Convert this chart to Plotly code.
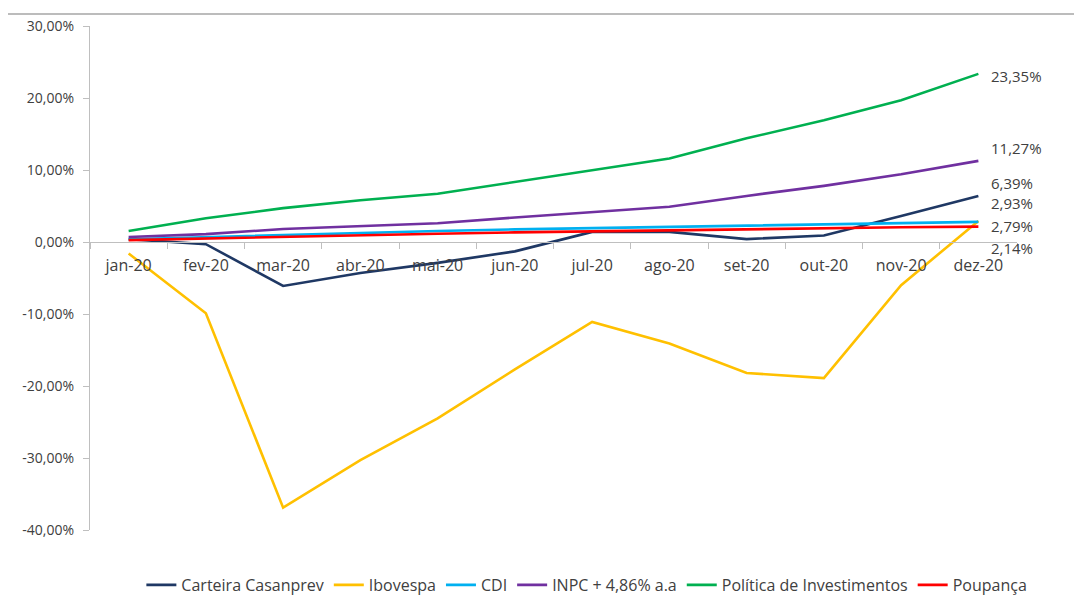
import plotly.graph_objects as go

months = ["jan-20", "fev-20", "mar-20", "abr-20", "mai-20", "jun-20",
          "jul-20", "ago-20", "set-20", "out-20", "nov-20", "dez-20"]

carteira = [0.40, -0.30, -6.10, -4.30, -2.90, -1.30, 1.40, 1.40, 0.40, 0.90, 3.60, 6.39]
ibovespa = [-1.60, -9.90, -36.90, -30.30, -24.50, -17.70, -11.10, -14.10, -18.20, -18.90, -6.00, 2.93]
cdi = [0.38, 0.67, 1.00, 1.28, 1.53, 1.75, 1.94, 2.11, 2.27, 2.44, 2.60, 2.79]
inpc = [0.70, 1.10, 1.80, 2.20, 2.60, 3.40, 4.20, 4.90, 6.40, 7.80, 9.40, 11.27]
politica = [1.53, 3.30, 4.70, 5.80, 6.70, 8.30, 9.90, 11.60, 14.40, 16.90, 19.70, 23.35]
poupanca = [0.26, 0.50, 0.72, 0.94, 1.14, 1.34, 1.50, 1.66, 1.80, 1.94, 2.04, 2.14]

y_ticks = [30, 20, 10, 0, -10, -20, -30, -40]
y_ticktext = [f"{v:.2f}".replace(".", ",") + "%" for v in y_ticks]

series = [
    ("Carteira Casanprev", carteira, "#1F3864", 13),
    ("Ibovespa", ibovespa, "#FFC000", 18),
    ("CDI", cdi, "#00B0F0", -4),
    ("INPC + 4,86% a.a", inpc, "#7030A0", 13),
    ("Política de Investimentos", politica, "#00B050", -2),
    ("Poupança", poupanca, "#FF0000", -21),
]

FONT = "'Open Sans', Lato, sans-serif"
TXT = "#404040"
AXC = "#BFBFBF"

fig = go.Figure()
annotations = []
for name, vals, color, yshift in series:
    fig.add_trace(go.Scatter(
        x=months, y=vals, mode="lines", name=name,
        line=dict(color=color, width=2.6),
    ))
    annotations.append(dict(
        x=months[-1], y=vals[-1], xref="x", yref="y",
        text=f"{vals[-1]:.2f}".replace(".", ",") + "%",
        showarrow=False, xanchor="left", yanchor="middle",
        xshift=11, yshift=yshift,
        font=dict(family=FONT, size=15, color=TXT),
    ))

fig.update_layout(
    width=1074, height=589,
    margin=dict(l=82, r=65, t=18, b=67, autoexpand=False),
    paper_bgcolor="white", plot_bgcolor="white",
    font=dict(family=FONT, size=15, color=TXT),
    showlegend=True,
    legend=dict(
        orientation="h", x=0.536, xanchor="center", y=-0.109, yanchor="middle",
        font=dict(family=FONT, size=16, color=TXT),
        itemwidth=30, tracegroupgap=0,
    ),
    annotations=annotations,
    shapes=[dict(type="line", xref="paper", yref="paper",
                 x0=-0.09, x1=1.07, y0=1.0238, y1=1.0238,
                 line=dict(color="#A6A6A6", width=1.5))],
    xaxis=dict(
        type="category", range=[-0.5, 11.5],
        anchor="free", position=(0 - (-40)) / 70,
        showline=True, linecolor=AXC, linewidth=1.3,
        ticks="outside", tickson="boundaries", ticklen=6, tickcolor=AXC,
        ticklabelstandoff=9,
        showgrid=False, zeroline=False, automargin=False,
        tickfont=dict(family=FONT, size=16, color=TXT),
    ),
    yaxis=dict(
        range=[-40, 30], tickvals=y_ticks, ticktext=y_ticktext,
        showline=True, linecolor=AXC, linewidth=1.3,
        ticks="outside", ticklen=6, tickcolor=AXC,
        ticklabelstandoff=6,
        showgrid=False, zeroline=False, automargin=False,
        tickfont=dict(family=FONT, size=14, color=TXT),
    ),
)

fig.write_html("out.html")
